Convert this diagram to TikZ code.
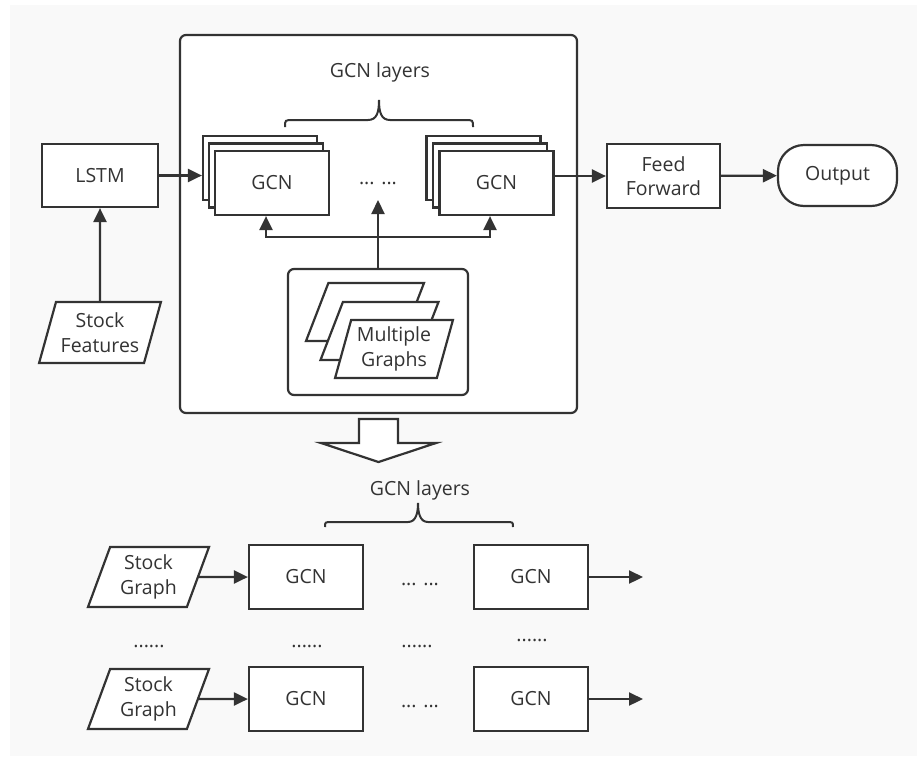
\documentclass[tikz,border=0pt]{standalone}
\usepackage{fontspec}
\setmainfont{Open Sans}
\usetikzlibrary{arrows.meta,shapes.geometric,calc}
\definecolor{ink}{RGB}{51,51,51}
\definecolor{paper}{RGB}{249,249,249}

\begin{document}
\begin{tikzpicture}[x=1pt,y=-1pt,line width=2.2pt,color=ink,
  font=\fontsize{19.5}{24.5}\selectfont,
  >={Triangle[length=14pt,width=13pt]},
  flowbox/.style={draw,fill=white,inner sep=0pt,align=center},
  gcnbox/.style={flowbox,minimum width=114pt,minimum height=64pt},
  para/.style={trapezium,trapezium left angle=70,trapezium right angle=110,
    trapezium stretches=true,draw,fill=white,inner sep=2pt,align=center,
    minimum width=122pt,minimum height=60pt},
  mgpara/.style={para,trapezium left angle=73,trapezium right angle=107,
    minimum width=118pt,minimum height=58pt},
  frame/.style={draw,fill=white,rounded corners=6pt,inner sep=0pt},
  label/.style={anchor=base,inner sep=0pt}]

\useasboundingbox (0,0) rectangle (917,756);
\fill[white] (0,0) rectangle (917,756);
\fill[paper] (10,5) rectangle (917,756);

% encoder and input
\node[flowbox,minimum width=116pt,minimum height=63pt] (lstm) at (100,175.5) {LSTM};
\node[para,minimum height=61pt] (sf) at (100,332.5) {Stock\\Features};
\draw[->] (sf.north) -- (lstm.south);

% GCN block
\node[frame,minimum width=397pt,minimum height=378pt] (block) at (378.5,224) {};
\node[label] (toplbl) at (380,77) {GCN layers};
\draw[line width=2pt] (285,127) .. controls (285,120) .. (293,120) -- (368,120)
  .. controls (377,120) and (379,112) .. (379,100)
  .. controls (379,112) and (381,120) .. (390,120) -- (465,120)
  .. controls (473,120) .. (473,127);

\node[gcnbox] (gcnA3) at (260,168) {};
\node[gcnbox] (gcnA2) at (266,175.5) {};
\node[gcnbox] (gcnA) at (272,183) {GCN};
\node[gcnbox] (gcnB3) at (483.5,168) {};
\node[gcnbox] (gcnB2) at (490,175.5) {};
\node[gcnbox] (gcnB) at (496.5,183) {GCN};
\node[label] (midots) at (378,184) {... ...};

\node[frame,minimum width=180pt,minimum height=126pt] (mg) at (378,332) {};
\node[mgpara] (g3) at (365,312) {};
\node[mgpara] (g2) at (379.5,331) {};
\node[mgpara] (g1) at (394,349) {Multiple\\Graphs};

\coordinate (fork) at (mg.north |- 0,237);
\coordinate (upend) at (mg.north |- 0,200);
\draw[->] (mg.north) -- (upend);
\draw[->] (fork) -| (gcnA2.center |- gcnA.south);
\draw[->] (fork) -| (gcnB2.center |- gcnB.south);

\draw[->] (lstm.east) -- (lstm.east -| gcnA3.west);

% head
\node[flowbox,minimum width=113pt,minimum height=64pt] (ff) at (663.5,176) {Feed\\Forward};
\node[flowbox,rounded corners=26pt,minimum width=119pt,minimum height=61pt] (out) at (837.5,175.5) {Output};
\draw[->] (ff.west -| gcnB.east) -- (ff.west);
\draw[->] (ff) -- (out);

% expansion arrow
\draw[fill=white] (359,419) -- (398,419) -- (398,443) -- (436,443) -- (378.5,462)
  -- (321,443) -- (359,443) -- cycle;

% unrolled GCN layers
\node[label] (botlbl) at (420,495) {GCN layers};
\draw[line width=2pt] (325,527) .. controls (325,522) .. (332,522) -- (408,522)
  .. controls (416,522) and (418,513) .. (418,503)
  .. controls (418,513) and (420,522) .. (428,522) -- (506,522)
  .. controls (513,522) .. (513,527);

\foreach \r/\y in {1/577,2/699}{
  \node[para] (sg\r) at (148.5,\y) {Stock\\Graph};
  \node[gcnbox] (first\r) at (306,\y) {GCN};
  \node[label] (gap\r) at (420,\y+8) {... ...};
  \node[gcnbox] (last\r) at (531,\y) {GCN};
  \coordinate (end\r) at (643,\y);
  \draw[->] (sg\r.east) -- (first\r.west);
  \draw[->] (last\r.east) -- (end\r);
}

\node[label] (vd1) at (149,647) {......};
\node[label] (vd2) at (307,647) {......};
\node[label] (vd3) at (417,647) {......};
\node[label] (vd4) at (532,641) {......};
\end{tikzpicture}
\end{document}
